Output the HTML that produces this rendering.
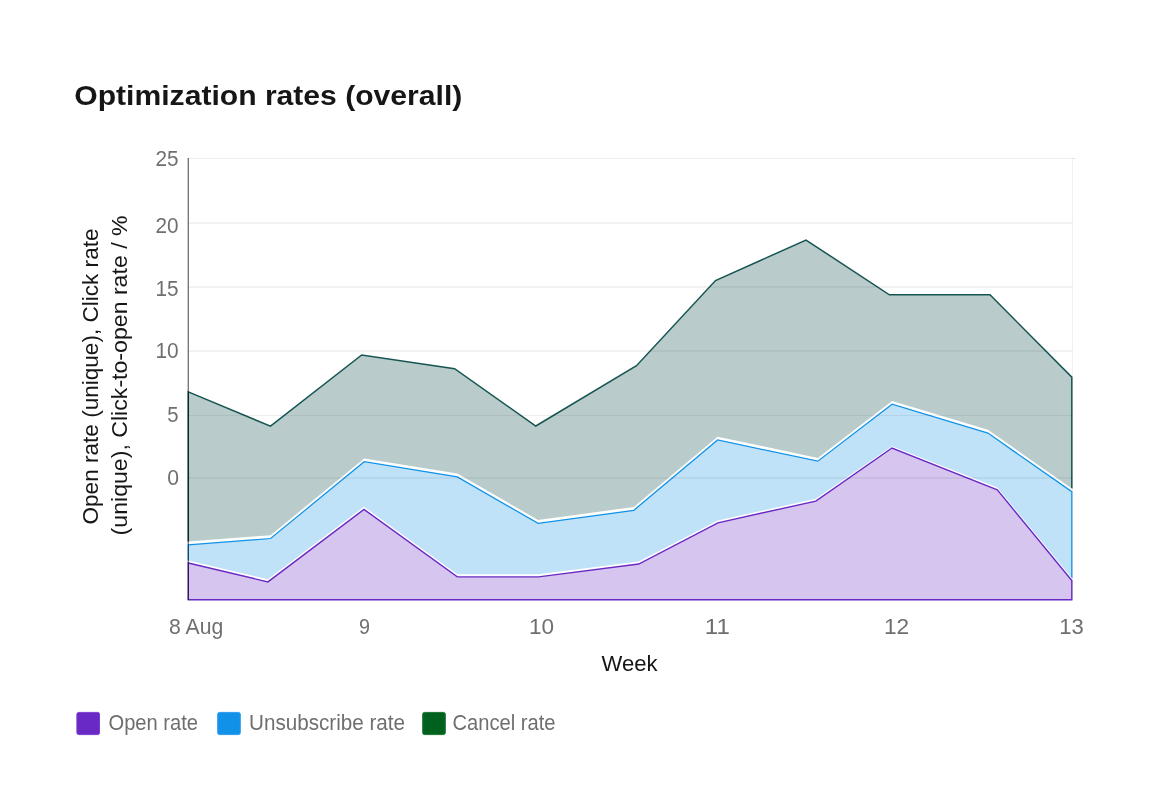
<!DOCTYPE html>
<html lang="en">
<head>
<meta charset="utf-8">
<title>Optimization rates (overall)</title>
<style>
html,body{margin:0;padding:0;background:#fff;}
body{width:1152px;height:811px;overflow:hidden;font-family:"Liberation Sans",sans-serif;}
svg{display:block;}
text{font-family:"Liberation Sans",sans-serif;}
.tick{font-size:22px;fill:#6f6f6f;}
.axt{font-size:22px;fill:#161616;}
.title{font-size:28px;font-weight:bold;fill:#161616;}
.grid line{stroke:#000;stroke-opacity:0.1;stroke-width:1;}
</style>
</head>
<body>
<svg width="1152" height="811" viewBox="0 0 1152 811">
<rect width="1152" height="811" fill="#fff"/>
<text class="title" x="74.3" y="104.5" textLength="388" lengthAdjust="spacingAndGlyphs">Optimization rates (overall)</text>



<!-- areas -->
<g stroke-linejoin="miter">
<path d="M188.3,391.9 L270.5,426.2 L361.7,355 L454.6,368.75 L535.8,426 L636.5,365.7 L715.5,280.6 L806,240 L889.4,294.8 L990,294.8 L1071.8,377.1 L1071.8,599.8 L188.3,599.8 Z" fill="#165553" fill-opacity="0.3" stroke="#165553" stroke-width="1.5"/>
<path d="M186.6,541.5 L188.3,541.5 L270.6,535.2 L364.2,458.4 L457.3,473.6 L538.1,520 L633.8,507 L717.6,436.7 L817.8,457.9 L892.1,400.9 L987.9,429.8 L1071.8,488.4 L1073.2,488.4 L1073.2,601 L186.6,601 Z" fill="#fff"/>
<path d="M188.3,544.8 L270.6,538.5 L364.2,461.7 L457.3,476.9 L538.1,523.3 L633.8,510.3 L717.6,440 L817.8,461.2 L892.1,404.2 L987.9,433.1 L1071.8,491.7 L1071.8,599.8 L188.3,599.8 Z" fill="#1192e8" fill-opacity="0.265" stroke="#1192e8" stroke-width="1.25"/>
<path d="M186.6,560.4 L188.3,560.4 L267.9,579.2 L364,506.7 L457.3,574.2 L538.5,574.2 L638.7,561.4 L717.9,520.4 L815.8,498.8 L892,446.2 L997.3,487.5 L1071.8,578 L1073.2,578 L1073.2,601 L186.6,601 Z" fill="#fff"/>
<path d="M188.3,563 L267.9,581.9 L364,509.4 L457.3,576.9 L538.5,576.9 L638.7,564 L717.9,522.8 L815.8,501.1 L892,448 L997.3,489.8 L1071.8,580.6 L1071.8,599.8 L188.3,599.8 Z" fill="#6929c4" fill-opacity="0.27" stroke="#6929c4" stroke-width="1.4"/>

</g>
<g class="grid">
<line x1="188" y1="158.5" x2="1076.5" y2="158.5" style="stroke-opacity:0.065"/>
<line x1="188" y1="223" x2="1072.5" y2="223"/>
<line x1="188" y1="287" x2="1072.5" y2="287"/>
<line x1="188" y1="351" x2="1072.5" y2="351"/>
<line x1="188" y1="415.5" x2="1072.5" y2="415.5" style="stroke-opacity:0.065"/>
<line x1="188" y1="478" x2="1072.5" y2="478"/>
<line x1="1072.5" y1="158" x2="1072.5" y2="600" style="stroke-opacity:0.06"/>
</g>
<line x1="188.3" y1="158" x2="188.3" y2="600" stroke="#000" stroke-opacity="0.52" stroke-width="1.4"/>



<g class="tick">
<text x="155.4" y="165.5" textLength="23.1" lengthAdjust="spacingAndGlyphs">25</text>
<text x="155.4" y="233" textLength="23.1" lengthAdjust="spacingAndGlyphs">20</text>
<text x="155.4" y="295.5" textLength="23.1" lengthAdjust="spacingAndGlyphs">15</text>
<text x="155.4" y="358.3" textLength="23.3" lengthAdjust="spacingAndGlyphs">10</text>
<text x="167.2" y="422.2" textLength="11.3" lengthAdjust="spacingAndGlyphs">5</text>
<text x="167.2" y="484.9" textLength="11.8" lengthAdjust="spacingAndGlyphs">0</text>
</g>
<g class="tick">
<text x="169" y="634" textLength="54.2" lengthAdjust="spacingAndGlyphs">8 Aug</text>
<text x="359" y="634" textLength="11" lengthAdjust="spacingAndGlyphs">9</text>
<text x="528.9" y="634" textLength="25.1" lengthAdjust="spacingAndGlyphs">10</text>
<text x="704.8" y="634" textLength="25" lengthAdjust="spacingAndGlyphs">11</text>
<text x="883.9" y="634" textLength="25.2" lengthAdjust="spacingAndGlyphs">12</text>
<text x="1059.3" y="634" textLength="24.5" lengthAdjust="spacingAndGlyphs">13</text>
</g>
<text class="axt" x="601.5" y="670.8" textLength="56" lengthAdjust="spacingAndGlyphs">Week</text>

<text class="axt" transform="translate(98,524.5) rotate(-90)" textLength="296" lengthAdjust="spacingAndGlyphs">Open rate (unique), Click rate</text>
<text class="axt" transform="translate(127.3,535.4) rotate(-90)" textLength="320" lengthAdjust="spacingAndGlyphs">(unique), Click-to-open rate / %</text>

<!-- legend -->
<rect x="76.9" y="712.4" width="22.6" height="22.2" rx="1.8" fill="#6929c4" stroke="#7a3cd0" stroke-width="1"/>
<text class="tick" x="108.5" y="730" textLength="89.5" lengthAdjust="spacingAndGlyphs">Open rate</text>
<rect x="217.7" y="712.4" width="22.6" height="22.2" rx="1.8" fill="#1192e8" stroke="#2a9df0" stroke-width="1"/>
<text class="tick" x="249" y="730" textLength="156" lengthAdjust="spacingAndGlyphs">Unsubscribe rate</text>
<rect x="422.7" y="712.4" width="22.6" height="22.2" rx="1.8" fill="#00611f" stroke="#15752f" stroke-width="1"/>
<text class="tick" x="452.5" y="730" textLength="103" lengthAdjust="spacingAndGlyphs">Cancel rate</text>
</svg>
</body>
</html>
